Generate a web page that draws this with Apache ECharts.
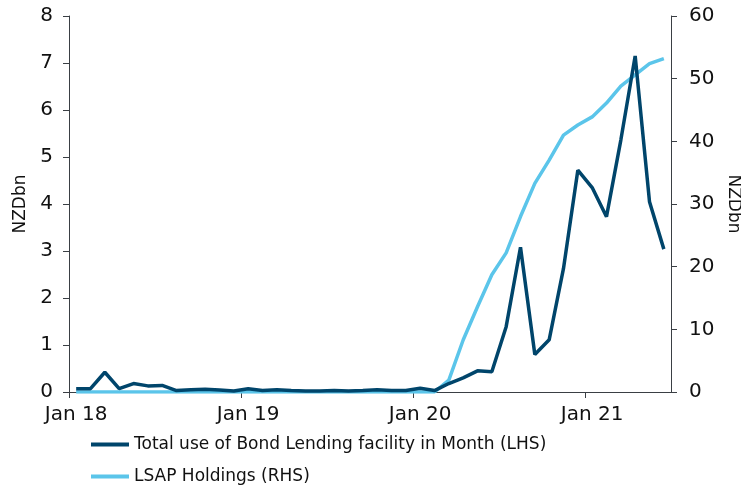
<!DOCTYPE html>
<html>
<head>
<meta charset="utf-8">
<script src="https://cdn.jsdelivr.net/npm/echarts@6/dist/echarts.min.js"></script>
<style>
  html, body { margin: 0; padding: 0; background: #ffffff; }
  #chart { width: 741px; height: 491px; }
</style>
</head>
<body>
<div id="chart"></div>
<script>
// Monthly observations, Jan 2018 - Jun 2021
const months = [
  'Jan 18','Feb 18','Mar 18','Apr 18','May 18','Jun 18','Jul 18','Aug 18','Sep 18','Oct 18','Nov 18','Dec 18',
  'Jan 19','Feb 19','Mar 19','Apr 19','May 19','Jun 19','Jul 19','Aug 19','Sep 19','Oct 19','Nov 19','Dec 19',
  'Jan 20','Feb 20','Mar 20','Apr 20','May 20','Jun 20','Jul 20','Aug 20','Sep 20','Oct 20','Nov 20','Dec 20',
  'Jan 21','Feb 21','Mar 21','Apr 21','May 21','Jun 21'
];

// Total use of the Bond Lending facility in each month, NZD bn (left axis)
const bondLending = [
  0.07, 0.07, 0.42, 0.07, 0.18, 0.13, 0.14, 0.03, 0.05, 0.06, 0.04, 0.02,
  0.07, 0.03, 0.05, 0.03, 0.02, 0.02, 0.03, 0.02, 0.03, 0.05, 0.03, 0.03,
  0.08, 0.03, 0.18, 0.30, 0.45, 0.43, 1.39, 3.08, 0.80, 1.11, 2.63, 4.72,
  4.35, 3.73, 5.36, 7.15, 4.05, 3.04
];

// LSAP holdings, NZD bn (right axis)
const lsapHoldings = [
  0, 0, 0, 0, 0, 0, 0, 0, 0, 0, 0, 0,
  0, 0, 0, 0, 0, 0, 0, 0, 0, 0, 0, 0,
  0, 0, 1.9, 8.3, 13.6, 18.7, 22.2, 28.0, 33.3, 37.0, 41.0, 42.6,
  43.9, 46.1, 48.8, 50.6, 52.4, 53.2
];

// Year-start months that carry a label and a tick
const yearStarts = ['Jan 18', 'Jan 19', 'Jan 20', 'Jan 21'];

const seriesNames = ['Total use of Bond Lending facility in Month (LHS)', 'LSAP Holdings (RHS)'];
const leftTicks = { min: 0, max: 8, interval: 1 };
const rightTicks = { min: 0, max: 60, interval: 10 };

const DARK = '#00456b';
const LIGHT = '#5bc5ea';
const FONT = 'DejaVu Sans, Verdana, sans-serif';
const AXIS = '#3a3f44';
const TEXT = '#111111';
const TICK_LEN = 6;

const chart = echarts.init(document.getElementById('chart'), null, { renderer: 'canvas' });

const yCommon = {
  type: 'value',
  nameLocation: 'middle',
  nameTextStyle: { fontFamily: FONT, fontSize: 17, color: TEXT },
  axisLine: { show: true, lineStyle: { color: AXIS, width: 1 } },
  axisTick: { show: true, length: TICK_LEN, lineStyle: { color: AXIS } },
  splitLine: { show: false }
};

const legendCommon = {
  left: 91, padding: 0,
  icon: 'rect', itemWidth: 38, itemHeight: 4, itemGap: 4,
  textStyle: { fontFamily: FONT, fontSize: 17, color: TEXT }
};

chart.setOption({
  animation: false,
  backgroundColor: '#ffffff',
  // fixed plot rectangle; labels and axis names sit outside it
  grid: { left: 69, right: 70, top: 16, bottom: 99, containLabel: false, outerBoundsMode: 'none' },
  legend: [
    Object.assign({ data: [seriesNames[0]], top: 436 }, legendCommon),
    Object.assign({ data: [seriesNames[1]], top: 468 }, legendCommon)
  ],
  xAxis: {
    type: 'category',
    data: months,
    boundaryGap: true,
    axisLine: { show: true, lineStyle: { color: AXIS, width: 1 } },
    // year ticks are drawn by the custom series below (at the start of each January)
    axisTick: { show: false },
    axisLabel: { interval: 11, fontFamily: FONT, fontSize: 20, color: TEXT, margin: 13 },
    splitLine: { show: false }
  },
  yAxis: [
    Object.assign({}, yCommon, {
      position: 'left',
      name: 'NZDbn', nameGap: 40, nameRotate: 90,
      axisLabel: { fontFamily: FONT, fontSize: 20, color: TEXT, margin: 16 },
      min: leftTicks.min, max: leftTicks.max, interval: leftTicks.interval
    }),
    Object.assign({}, yCommon, {
      position: 'right',
      name: 'NZDbn', nameGap: 51, nameRotate: -90,
      axisLabel: { fontFamily: FONT, fontSize: 20, color: TEXT, margin: 18 },
      min: rightTicks.min, max: rightTicks.max, interval: rightTicks.interval
    })
  ],
  series: [
    {
      name: seriesNames[1],
      type: 'line',
      yAxisIndex: 1,
      data: lsapHoldings,
      showSymbol: false,
      lineStyle: { color: LIGHT, width: 3.5 },
      itemStyle: { color: LIGHT },
      z: 2
    },
    {
      name: seriesNames[0],
      type: 'line',
      yAxisIndex: 0,
      data: bondLending,
      showSymbol: false,
      lineStyle: { color: DARK, width: 3.5 },
      itemStyle: { color: DARK },
      z: 3
    },
    {
      // outward tick marks on the x axis at the left edge of each January band
      name: 'yearTicks',
      type: 'custom',
      yAxisIndex: 0,
      silent: true,
      clip: false,
      data: yearStarts.map(m => [m, leftTicks.min]),
      renderItem: function (params, api) {
        const p = api.coord([api.value(0), api.value(1)]);
        const band = api.size([1, 0])[0];
        const x = Math.round(p[0] - band / 2) + 0.5;
        return {
          type: 'line',
          shape: { x1: x, y1: p[1], x2: x, y2: p[1] + TICK_LEN },
          style: { stroke: AXIS, lineWidth: 1 }
        };
      },
      z: 1
    }
  ]
});
</script>
</body>
</html>
